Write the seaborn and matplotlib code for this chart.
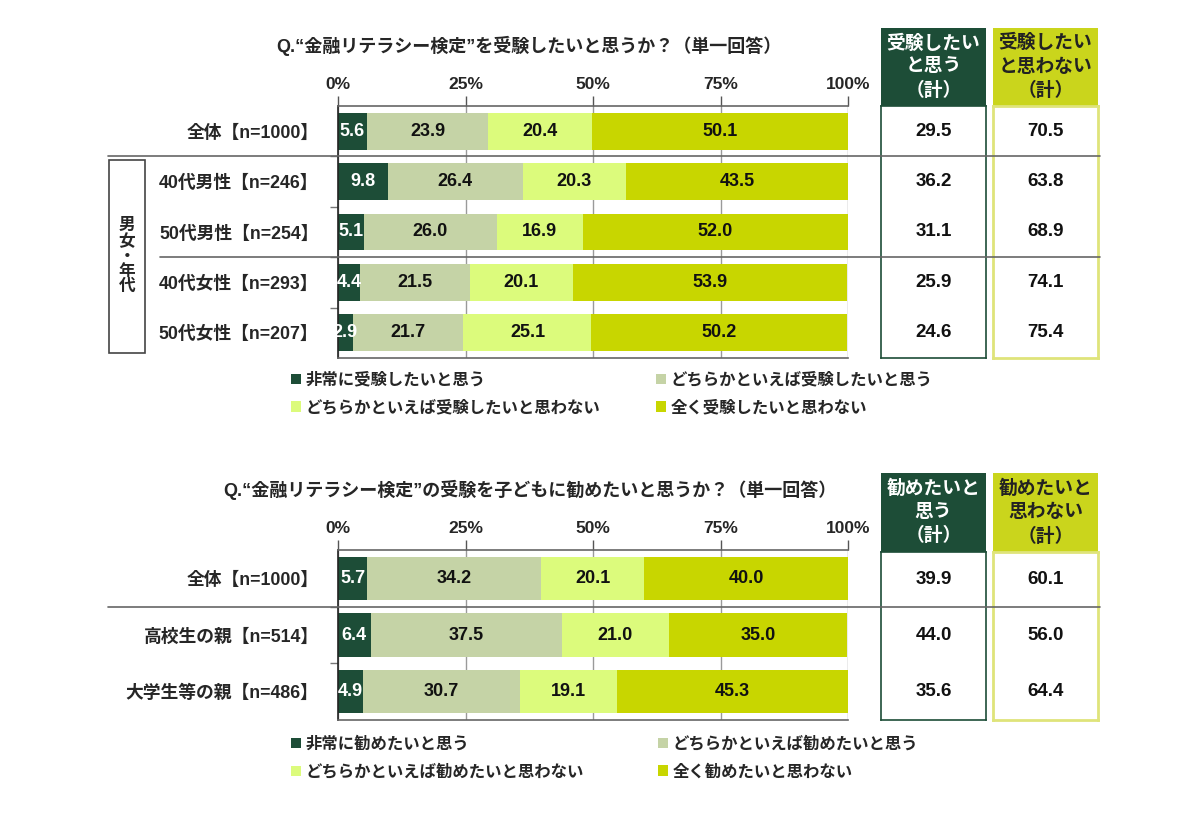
import numpy as np
import pandas as pd
import matplotlib
matplotlib.use("Agg")
import matplotlib.pyplot as plt
import seaborn as sns
from matplotlib.patches import Rectangle, Patch
from matplotlib.lines import Line2D

sns.set_theme(style="white")
plt.rcParams['font.family'] = ['Liberation Sans', 'Noto Sans CJK JP', 'DejaVu Sans']
plt.rcParams['font.weight'] = 'bold'

# ---------------- data ----------------
title1 = "Q.“金融リテラシー検定”を受験したいと思うか？（単一回答）"
groups1 = ["全体【n=1000】", "40代男性【n=246】", "50代男性【n=254】", "40代女性【n=293】", "50代女性【n=207】"]
series1 = ["非常に受験したいと思う", "どちらかといえば受験したいと思う",
           "どちらかといえば受験したいと思わない", "全く受験したいと思わない"]
very1 = [5.6, 9.8, 5.1, 4.4, 2.9]
some1 = [23.9, 26.4, 26.0, 21.5, 21.7]
rather_not1 = [20.4, 20.3, 16.9, 20.1, 25.1]
not1 = [50.1, 43.5, 52.0, 53.9, 50.2]
yes_total1 = [29.5, 36.2, 31.1, 25.9, 24.6]
no_total1 = [70.5, 63.8, 68.9, 74.1, 75.4]
yes_head1 = "受験したい\nと思う\n（計）"
no_head1 = "受験したい\nと思わない\n（計）"
bracket_label = "男\n女\n・\n年\n代"

title2 = "Q.“金融リテラシー検定”の受験を子どもに勧めたいと思うか？（単一回答）"
groups2 = ["全体【n=1000】", "高校生の親【n=514】", "大学生等の親【n=486】"]
series2 = ["非常に勧めたいと思う", "どちらかといえば勧めたいと思う",
           "どちらかといえば勧めたいと思わない", "全く勧めたいと思わない"]
very2 = [5.7, 6.4, 4.9]
some2 = [34.2, 37.5, 30.7]
rather_not2 = [20.1, 21.0, 19.1]
not2 = [40.0, 35.0, 45.3]
yes_total2 = [39.9, 44.0, 35.6]
no_total2 = [60.1, 56.0, 64.4]
yes_head2 = "勧めたいと\n思う\n（計）"
no_head2 = "勧めたいと\n思わない\n（計）"

ticks = [0, 25, 50, 75, 100]
tick_labels = ["0%", "25%", "50%", "75%", "100%"]

# ---------------- style ----------------
DARK = "#1d4d37"
GRAYGREEN = "#c5d3a6"
LIGHT = "#dcfb7c"
OLIVE = "#c8d600"
HEAD_YEL = "#cad51c"
YEL_BORDER = "#dfe47a"
colors = [DARK, GRAYGREEN, LIGHT, OLIVE]
text_colors = ["white", "#111111", "#111111", "#111111"]

W, H = 1200, 827
fig = plt.figure(figsize=(W / 100, H / 100), dpi=100)
fig.patch.set_facecolor("white")


def add_ax(x0, y0, x1, y1):
    return fig.add_axes([x0 / W, 1 - y1 / H, (x1 - x0) / W, (y1 - y0) / H])


def fline(x0, x1, y, color="#666666", lw=1.2):
    fig.add_artist(Line2D([x0 / W, x1 / W], [1 - y / H, 1 - y / H],
                          transform=fig.transFigure, color=color, lw=lw))


def draw_chart(box, groups, cols, bar_h):
    ax = add_ax(*box)
    n = len(groups)
    cums = np.cumsum(np.array(cols, dtype=float), axis=0)
    for i in reversed(range(len(cols))):
        sns.barplot(x=cums[i], y=groups, orient="h", color=colors[i],
                    saturation=1, width=bar_h, ax=ax, linewidth=0, edgecolor="none")
    for i, c in enumerate(cols):
        for j, v in enumerate(c):
            ax.text(cums[i][j] - v / 2, j, f"{v:.1f}", ha="center", va="center",
                    color=text_colors[i], fontsize=13, fontweight="bold")
    ax.set_xlim(0, 100)
    ax.set_ylim(n - 0.5, -0.5)
    ax.set_xlabel("")
    ax.set_ylabel("")
    ax.xaxis.tick_top()
    ax.set_xticks(ticks, tick_labels)
    ax.tick_params(axis="x", direction="out", length=7, width=1, color="#555555",
                   top=True, bottom=False, labelsize=12.5, pad=3)
    ax.set_yticks(range(n), groups)
    ax.tick_params(axis="y", length=0, labelsize=12.8, pad=14)
    ax.set_yticks(np.arange(0.5, n - 0.5, 1.0), minor=True)
    ax.tick_params(axis="y", which="minor", direction="out", length=6, width=1,
                   color="#777777", left=True)
    ax.grid(axis="x", color="#9a9a9a", lw=1)
    ax.set_axisbelow(True)
    ax.spines["left"].set_color("#222222")
    ax.spines["left"].set_linewidth(1.2)
    for s in ["top", "bottom"]:
        ax.spines[s].set_color("#666666")
        ax.spines[s].set_linewidth(1.2)
    ax.spines["right"].set_visible(False)
    return ax


def draw_boxes(ybox, head_top, n, yes_vals, no_vals, yes_head, no_head):
    y0, y1 = ybox
    specs = [(881, 986, yes_vals, yes_head, DARK, "white", DARK, 1.2),
             (993, 1098, no_vals, no_head, HEAD_YEL, "#222222", YEL_BORDER, 2.0)]
    for x0, x1, vals, head, hcol, htxt, bcol, blw in specs:
        hx = add_ax(x0, head_top, x1, y0)
        hx.set_facecolor(hcol)
        hx.set_xticks([]); hx.set_yticks([])
        for s in hx.spines.values():
            s.set_visible(False)
        hx.text(0.5, 0.5, head, ha="center", va="center", color=htxt,
                fontsize=13.5, fontweight="bold", linespacing=1.45, transform=hx.transAxes)
        bx = add_ax(x0, y0, x1, y1)
        bx.set_xlim(0, 1)
        bx.set_ylim(n - 0.5, -0.5)
        bx.set_xticks([]); bx.set_yticks([])
        bx.set_facecolor("white")
        for s in bx.spines.values():
            s.set_visible(True)
            s.set_color(bcol)
            s.set_linewidth(blw)
        for j, v in enumerate(vals):
            bx.text(0.5, j, f"{v:.1f}", ha="center", va="center",
                    fontsize=13.5, fontweight="bold", color="#111111")


# ---------------- top chart ----------------
fig.text(529 / W, 1 - 46 / H, title1, ha="center", va="center", fontsize=13, fontweight="bold")
ax1 = draw_chart((338, 106, 848, 358), groups1, [very1, some1, rather_not1, not1], 0.73)
draw_boxes((106, 358), 28, len(groups1), yes_total1, no_total1, yes_head1, no_head1)
fline(108, 1100, 156)
fline(160, 1100, 257)
fig.add_artist(Rectangle((109 / W, 1 - 353 / H), 36 / W, 193 / H, transform=fig.transFigure,
                         facecolor="none", edgecolor="#444444", lw=1.2))
fig.text(127 / W, 1 - 256 / H, bracket_label, ha="center", va="center", fontsize=12,
         fontweight="bold", linespacing=1.0)

h1 = [Patch(facecolor=c, edgecolor="none") for c in colors]
order = [0, 2, 1, 3]
fig.legend([h1[i] for i in order], [series1[i] for i in order], ncol=2, loc="upper left",
           bbox_to_anchor=(291 / W, 1 - 372 / H), frameon=False, fontsize=11.8,
           handlelength=0.6, handleheight=0.6, handletextpad=0.3, columnspacing=3.4,
           labelspacing=0.72, borderpad=0, borderaxespad=0)

# ---------------- bottom chart ----------------
fig.text(530 / W, 1 - 490 / H, title2, ha="center", va="center", fontsize=13, fontweight="bold")
ax2 = draw_chart((338, 550, 848, 720), groups2, [very2, some2, rather_not2, not2], 0.77)
draw_boxes((552, 720), 473, len(groups2), yes_total2, no_total2, yes_head2, no_head2)
fline(108, 1100, 607)

fig.legend([h1[i] for i in order], [series2[i] for i in order], ncol=2, loc="upper left",
           bbox_to_anchor=(291 / W, 1 - 736 / H), frameon=False, fontsize=11.8,
           handlelength=0.6, handleheight=0.6, handletextpad=0.3, columnspacing=4.5,
           labelspacing=0.72, borderpad=0, borderaxespad=0)

fig.savefig("out.png", dpi=100, facecolor="white")
